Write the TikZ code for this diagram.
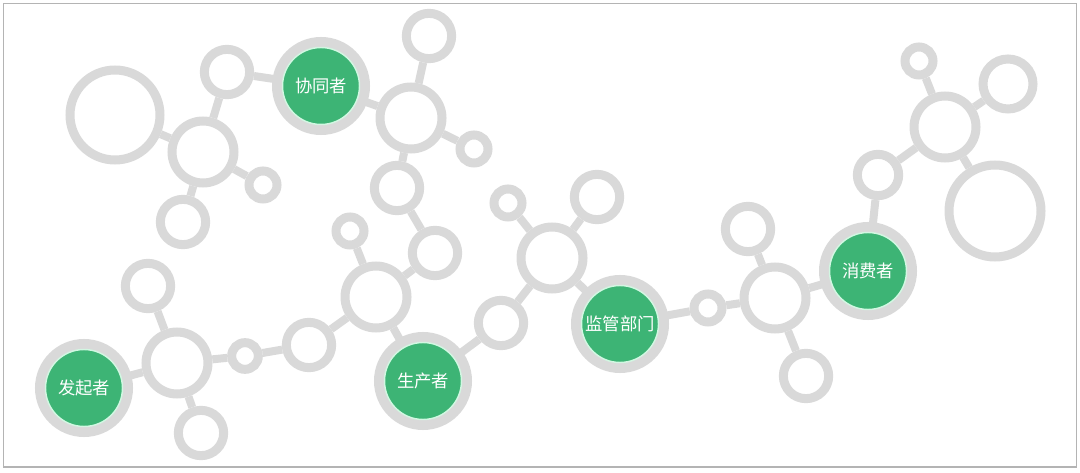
\documentclass[tikz,border=0pt]{standalone}
\usepackage{fontspec}
\newfontfamily\cjkfont{Noto Sans CJK SC}
\usetikzlibrary{backgrounds}
\definecolor{ringgray}{HTML}{D9D9D9}
\definecolor{framegray}{HTML}{B4B4B4}
\definecolor{rolegreen}{HTML}{3DB475}
\definecolor{mint}{HTML}{D2F7E2}

\begin{document}
\begin{tikzpicture}[
    x=0.75pt, y=-0.75pt,
    every node/.style={font=\cjkfont\fontsize{13}{15}\selectfont},
    ring/.style={circle, draw=ringgray, fill=white, line width=6.75pt, inner sep=0pt},
    big/.style={ring, minimum size=67.5pt},
    hub/.style={ring, minimum size=46.5pt},
    mid/.style={ring, minimum size=34pt},
    tiny/.style={ring, minimum size=21pt},
    role/.style={circle, fill=rolegreen, draw=mint, line width=1.1pt, text=white, inner sep=0pt,
        minimum size=57.75pt, preaction={draw=ringgray, line width=15.75pt}},
    link/.style={draw=ringgray, line width=6pt}
]
    \useasboundingbox (0,0) rectangle (1080,473);
    \draw[framegray, line width=1.1pt] (3.5,3.5) rectangle (1076.5,467);

    % Top-left cluster
    \node [big] (L1) at (115,115) {};
    \node [hub] (H1) at (203,152) {};
    \node [mid] (a1) at (227,72) {};
    \node [tiny] (a2) at (263,185) {};
    \node [mid] (a3) at (183,222) {};
    \node [role] (helper) at (321,86) {协同者};
    \node [hub] (H2) at (411,118) {};
    \node [mid] (b1) at (429,36) {};
    \node [tiny] (b2) at (474,149) {};
    \node [mid] (b3) at (397,188) {};
    \node [mid] (b4) at (435,253) {};

    % Middle cluster
    \node [hub] (H3) at (376,297) {};
    \node [tiny] (c1) at (350,231) {};
    \node [mid] (c2) at (309,345) {};
    \node [tiny, minimum size=20pt] (c3) at (245,356) {};
    \node [hub] (H4) at (177,363) {};
    \node [mid] (d1) at (148,286) {};
    \node [mid] (d2) at (201,433) {};
    \node [role] (starter) at (84,388) {发起者};
    \node [role] (producer) at (423,381) {生产者};
    \node [mid] (e1) at (501,323) {};
    \node [hub] (H5) at (552,258) {};
    \node [tiny] (e2) at (508,203) {};
    \node [mid] (e3) at (597,197) {};
    \node [role] (regulator) at (620,324) {监管部门};

    % Right cluster
    \node [tiny] (f1) at (708,308) {};
    \node [hub] (H6) at (775,298) {};
    \node [mid] (f2) at (748,229) {};
    \node [mid] (f3) at (806,376) {};
    \node [role] (consumer) at (868,271) {消费者};
    \node [mid, minimum size=31pt] (g1) at (878,175) {};
    \node [hub] (H7) at (945,127) {};
    \node [tiny] (g2) at (919,61) {};
    \node [mid, minimum size=37.5pt] (g3) at (1008,84) {};
    \node [big, minimum size=69pt] (G) at (995,211) {};

    % Links
    \begin{scope}[on background layer]
        \foreach \a/\b in {L1/H1, H1/a1, H1/a2, H1/a3, a1/helper, helper/H2, H2/b1, H2/b2, H2/b3,
            b3/b4, b4/H3, H3/c1, H3/c2, H3/producer, c2/c3, c3/H4, H4/d1, H4/d2, H4/starter,
            producer/e1, e1/H5, H5/e2, H5/e3, H5/regulator, regulator/f1, f1/H6, H6/f2, H6/f3,
            H6/consumer, consumer/g1, g1/H7, H7/g2, H7/g3, H7/G}
            \draw[link] (\a) -- (\b);
    \end{scope}
\end{tikzpicture}
\end{document}
